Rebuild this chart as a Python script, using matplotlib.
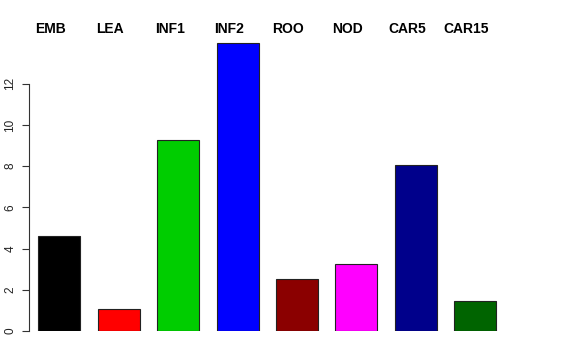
import matplotlib
matplotlib.use("Agg")
import matplotlib.pyplot as plt

categories = ["EMB", "LEA", "INF1", "INF2", "ROO", "NOD", "CAR5", "CAR15"]
values = [4.62, 1.07, 9.27, 13.98, 2.52, 3.25, 8.06, 1.46]
colors = ["#000000", "#FF0000", "#00CD00", "#0000FF", "#8B0000", "#FF00FF", "#00008B", "#006400"]
yticks = [0, 2, 4, 6, 8, 10, 12]

plt.rcParams['font.family'] = ['Liberation Sans', 'DejaVu Sans']

W, H = 576, 360
fig = plt.figure(figsize=(W/100, H/100), dpi=100)
# axes in pixel coordinates
left_px, right_px, top_px, bottom_px = 29, 545, 42, 331
ax = fig.add_axes([left_px/W, (H-bottom_px)/H, (right_px-left_px)/W, (bottom_px-top_px)/H])

step = 59.4
c0 = 59.3
x = list(range(len(categories)))
ax.bar(x, values, width=42/step, color=colors, edgecolor="#222222", linewidth=0.8)
ax.set_xlim((left_px - c0)/step, (right_px - c0)/step)
ax.set_ylim(0, (bottom_px - top_px)/20.6)

for s in ["top", "right", "bottom"]:
    ax.spines[s].set_visible(False)
ax.spines['left'].set_bounds(0, 12)
ax.spines['left'].set_linewidth(0.8)
ax.spines['left'].set_color("#333333")
ax.set_xticks([])
ax.set_yticks(yticks)
ax.set_yticklabels([str(v) for v in yticks], rotation=90, va="center", fontsize=8.5, color="#222222")
ax.tick_params(axis='y', length=5, width=0.8, pad=4, colors="#333333", labelcolor="#222222")

for i, c in enumerate(categories):
    fig.text((c0 + step*i - 8.5)/W, (H-29)/H, c, ha="center", va="center",
             fontsize=10, fontweight="bold")

fig.savefig("out.png", dpi=100)
